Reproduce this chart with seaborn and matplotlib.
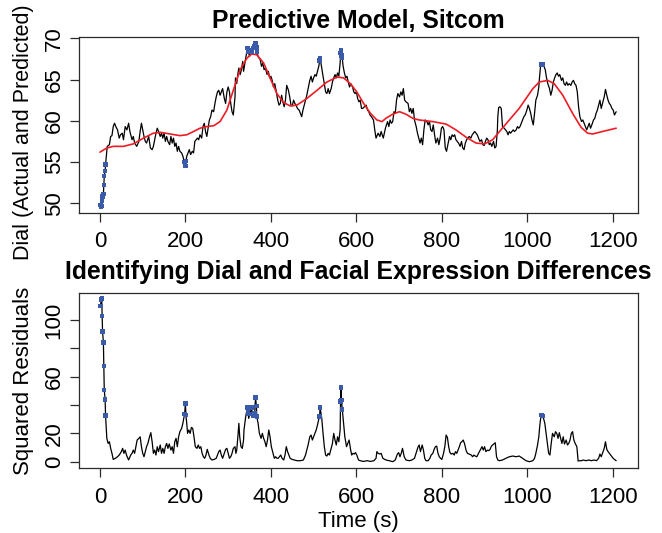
import pandas                as pd
import seaborn               as sns
import matplotlib.pyplot     as plt


sns.set_style("white")
plt.rcParams["font.family"]     = ["Liberation Sans", "DejaVu Sans"]
plt.rcParams["text.color"]      = "black"
plt.rcParams["axes.labelcolor"] = "black"
plt.rcParams["xtick.color"]     = "black"
plt.rcParams["ytick.color"]     = "black"

OUT_PATH    = "out.png"
BLUE        = "#3A5BAA"
RED         = "#EE1C25"
EDGE        = "#2b2b2b"

# dial rating over time (seconds)
DIAL_T = [
    1, 3, 4, 5, 6, 8, 9, 10, 12, 13,
    17, 22, 25, 28, 31, 34, 37, 41, 45, 48,
    52, 55, 59, 63, 67, 70, 75, 78, 81, 86,
    91, 94, 97, 100, 103, 106, 109, 114, 118, 122,
    125, 128, 131, 134, 137, 141, 144, 147, 150, 153,
    156, 159, 163, 166, 169, 172, 175, 178, 181, 184,
    187, 191, 194, 196, 198, 200, 201, 203, 206, 209,
    212, 216, 219, 222, 225, 228, 231, 234, 238, 241,
    244, 247, 250, 253, 256, 259, 262, 266, 269, 272,
    275, 278, 281, 284, 287, 291, 294, 297, 300, 303,
    306, 309, 312, 316, 317, 320, 323, 325, 328, 331,
    334, 336, 339, 341, 343, 345, 346, 347, 350, 352,
    355, 356, 358, 359, 362, 364, 366, 367, 370, 375,
    378, 381, 384, 387, 391, 394, 397, 400, 403, 406,
    409, 412, 416, 419, 422, 425, 428, 431, 434, 437,
    441, 444, 447, 450, 453, 456, 459, 462, 466, 469,
    472, 475, 478, 481, 484, 487, 491, 494, 497, 500,
    503, 506, 509, 512, 514, 515, 519, 522, 525, 528,
    531, 534, 537, 541, 544, 547, 550, 553, 556, 559,
    562, 563, 564, 565, 567, 569, 572, 575, 578, 581,
    584, 587, 591, 594, 597, 600, 603, 606, 609, 612,
    615, 619, 623, 626, 629, 632, 635, 640, 643, 646,
    651, 655, 658, 663, 668, 673, 676, 679, 682, 685,
    688, 691, 694, 697, 701, 704, 707, 710, 713, 716,
    721, 724, 727, 730, 733, 736, 740, 743, 746, 749,
    752, 755, 758, 761, 765, 768, 771, 774, 777, 780,
    783, 786, 790, 793, 796, 799, 802, 805, 808, 811,
    814, 818, 821, 824, 827, 830, 833, 836, 839, 843,
    846, 849, 852, 855, 858, 861, 864, 868, 871, 874,
    877, 880, 883, 886, 889, 893, 896, 899, 902, 905,
    908, 911, 914, 917, 921, 924, 927, 930, 931, 933,
    936, 939, 941, 942, 946, 949, 952, 955, 958, 961,
    964, 967, 970, 974, 977, 980, 983, 986, 989, 992,
    995, 999, 1002, 1005, 1008, 1011, 1014, 1017, 1020, 1024,
    1027, 1028, 1031, 1033, 1036, 1039, 1042, 1045, 1048, 1052,
    1055, 1058, 1061, 1064, 1067, 1070, 1073, 1076, 1080, 1083,
    1086, 1089, 1092, 1095, 1098, 1102, 1105, 1108, 1111, 1114,
    1117, 1120, 1123, 1127, 1130, 1133, 1136, 1139, 1142, 1145,
    1148, 1151, 1155, 1158, 1161, 1164, 1167, 1170, 1173, 1176,
    1180, 1183, 1186, 1189, 1192, 1195, 1198, 1201, 1204, 1208,
]
DIAL_V = [
    49.8, 49.6, 49.7, 50.3, 50.8, 51.1, 52.2, 53.3, 53.9, 54.7,
    56.9, 57.1, 58.1, 58.2, 59.3, 59.7, 59.3, 58.9, 57.9, 58.3,
    58.5, 57.7, 59.3, 58.9, 59.7, 58.7, 57.7, 58.1, 57.3, 56.9,
    57.5, 58.7, 59.7, 58.9, 58.1, 57.5, 57.3, 58.1, 56.7, 56.5,
    56.9, 57.7, 58.5, 59.1, 58.7, 58.1, 58.5, 57.9, 58.5, 57.5,
    58.1, 57.5, 57.1, 58.1, 57.3, 57.9, 56.9, 57.3, 56.3, 56.9,
    56.3, 56.1, 55.7, 55.3, 55.0, 54.5, 55.1, 55.7, 56.1, 56.5,
    55.9, 56.3, 56.1, 57.5, 57.7, 57.9, 57.7, 58.3, 57.9, 59.3,
    59.7, 58.7, 58.1, 59.1, 60.1, 60.5, 61.3, 61.1, 62.1, 62.9,
    63.5, 63.7, 63.1, 63.5, 63.9, 62.7, 62.1, 63.5, 64.1, 63.5,
    62.1, 61.1, 60.7, 62.9, 65.2, 64.5, 65.8, 66.4, 65.6, 66.2,
    67.2, 66.0, 67.0, 67.6, 68.2, 68.8, 68.7, 68.4, 67.8, 68.4,
    68.6, 68.4, 68.3, 68.8, 69.0, 69.4, 68.9, 68.4, 67.8, 67.4,
    66.6, 67.0, 66.2, 66.4, 65.6, 66.0, 65.2, 65.4, 64.9, 64.1,
    64.5, 63.7, 62.5, 61.9, 62.1, 63.1, 62.3, 61.7, 62.5, 64.3,
    63.7, 62.9, 61.9, 61.8, 62.5, 62.1, 61.9, 61.5, 61.3, 60.9,
    60.5, 61.3, 61.9, 62.5, 63.1, 63.9, 64.9, 65.4, 64.7, 65.2,
    65.6, 65.4, 66.0, 66.6, 67.3, 67.6, 66.4, 65.4, 64.5, 63.5,
    63.3, 63.9, 63.3, 63.9, 64.7, 65.2, 65.6, 65.2, 65.8, 65.4,
    67.0, 68.2, 68.6, 67.9, 67.6, 66.6, 65.8, 65.2, 65.4, 64.7,
    64.1, 64.5, 64.1, 63.5, 63.3, 63.5, 62.7, 62.3, 62.5, 61.5,
    61.5, 61.7, 61.9, 61.3, 61.1, 60.7, 60.5, 60.1, 58.9, 57.9,
    58.5, 58.1, 58.7, 57.9, 59.1, 59.9, 59.3, 60.1, 59.7, 59.9,
    61.1, 60.9, 62.5, 63.3, 62.9, 63.5, 63.1, 63.9, 62.5, 62.3,
    62.1, 61.1, 61.5, 60.9, 61.5, 60.1, 59.3, 58.5, 57.9, 57.3,
    57.9, 57.1, 58.9, 60.1, 59.9, 59.5, 59.9, 58.9, 58.7, 59.5,
    58.3, 57.3, 57.9, 57.1, 57.9, 59.1, 59.3, 58.9, 56.7, 56.3,
    57.1, 58.1, 57.7, 58.3, 58.1, 58.3, 57.7, 57.5, 57.3, 56.9,
    57.5, 56.7, 56.5, 57.3, 57.7, 57.9, 58.1, 57.9, 58.3, 58.5,
    58.7, 58.5, 58.3, 57.9, 57.5, 57.7, 57.1, 57.0, 57.5, 57.9,
    57.7, 57.1, 57.3, 56.9, 57.5, 56.7, 56.9, 58.9, 60.5, 61.6,
    61.7, 61.5, 60.1, 59.3, 59.1, 58.9, 58.7, 58.3, 58.7, 58.5,
    58.7, 58.9, 58.7, 58.9, 59.3, 59.1, 59.3, 59.7, 60.1, 60.5,
    60.7, 61.3, 61.9, 61.5, 60.9, 60.1, 59.5, 60.9, 62.5, 63.1,
    64.1, 64.9, 66.6, 66.8, 66.8, 66.6, 66.2, 65.2, 64.5, 63.9,
    63.1, 63.7, 64.7, 65.2, 65.6, 65.8, 65.4, 65.6, 64.9, 65.2,
    64.5, 64.3, 64.7, 64.3, 64.5, 64.3, 64.7, 64.9, 64.5, 64.3,
    63.5, 61.7, 60.5, 59.9, 60.1, 59.7, 59.3, 58.9, 59.3, 59.7,
    59.1, 59.5, 60.1, 60.3, 60.9, 61.3, 61.9, 62.5, 61.5, 62.1,
    62.9, 63.8, 63.1, 62.5, 62.1, 61.9, 61.5, 61.3, 60.7, 61.1,
]

# smooth model prediction
PRED_T = [
    0, 16, 31, 55, 78, 102, 125, 141, 164, 187,
    203, 219, 234, 250, 266, 281, 297, 312, 328, 344,
    355, 367, 383, 398, 414, 430, 445, 461, 484, 508,
    531, 555, 570, 586, 601, 617, 633, 648, 660, 669,
    685, 701, 716, 732, 747, 779, 810, 833, 857, 880,
    900, 919, 935, 958, 981, 997, 1013, 1028, 1048, 1063,
    1083, 1106, 1126, 1141, 1153, 1176, 1208,
]
PRED_V = [
    56.2, 56.7, 56.9, 56.9, 57.2, 57.9, 58.5, 58.6, 58.4, 58.2,
    58.3, 58.7, 59.1, 59.3, 59.4, 59.9, 61.3, 63.7, 66.2, 67.6,
    68.1, 68.0, 67.0, 65.2, 63.3, 62.2, 61.8, 61.9, 62.7, 63.7,
    64.7, 65.3, 65.2, 64.5, 63.5, 62.1, 60.9, 60.1, 59.9, 60.3,
    60.8, 61.1, 60.8, 60.3, 60.1, 59.9, 59.6, 58.9, 58.0, 57.3,
    57.2, 57.7, 58.7, 60.1, 61.5, 62.7, 63.9, 64.7, 64.9, 64.5,
    63.1, 60.9, 59.2, 58.5, 58.4, 58.7, 59.1,
]

# squared residuals over time
RESID_T = [
    1, 3, 4, 5, 6, 8, 9, 10, 12, 13,
    16, 19, 22, 25, 28, 31, 36, 41, 45, 50,
    53, 56, 59, 62, 67, 72, 75, 78, 81, 84,
    87, 91, 94, 97, 100, 103, 106, 109, 112, 116,
    119, 122, 125, 128, 131, 134, 137, 141, 144, 147,
    150, 153, 156, 159, 162, 166, 169, 172, 175, 178,
    181, 184, 187, 191, 194, 196, 198, 200, 201, 203,
    205, 208, 211, 214, 217, 220, 223, 227, 230, 233,
    236, 239, 242, 245, 248, 251, 255, 258, 262, 267,
    272, 275, 278, 281, 284, 287, 291, 294, 297, 300,
    303, 306, 309, 312, 316, 318, 320, 323, 325, 327,
    330, 333, 336, 337, 341, 344, 345, 346, 347, 348,
    351, 353, 355, 356, 359, 362, 364, 366, 367, 370,
    373, 377, 380, 383, 386, 389, 392, 395, 398, 401,
    405, 408, 411, 414, 417, 420, 423, 426, 430, 433,
    436, 439, 442, 445, 450, 455, 461, 469, 476, 481,
    484, 487, 491, 494, 497, 500, 503, 506, 509, 512,
    514, 515, 519, 522, 525, 528, 531, 534, 537, 540,
    544, 547, 550, 553, 556, 559, 562, 563, 564, 565,
    567, 570, 573, 577, 580, 583, 586, 589, 592, 595,
    598, 601, 605, 609, 617, 625, 633, 641, 646, 648,
    651, 655, 658, 662, 669, 677, 685, 691, 696, 699,
    702, 705, 708, 712, 716, 724, 730, 736, 741, 744,
    747, 750, 754, 757, 760, 763, 768, 772, 775, 779,
    782, 785, 788, 791, 794, 797, 800, 804, 807, 810,
    813, 816, 819, 822, 826, 829, 832, 835, 838, 841,
    844, 847, 850, 853, 857, 860, 864, 869, 872, 875,
    878, 882, 885, 888, 891, 894, 897, 900, 903, 907,
    910, 913, 916, 919, 922, 925, 928, 931, 935, 942,
    950, 958, 966, 974, 981, 989, 997, 1005, 1013, 1017,
    1020, 1024, 1027, 1029, 1031, 1033, 1036, 1038, 1041, 1044,
    1047, 1050, 1053, 1056, 1059, 1063, 1066, 1069, 1072, 1075,
    1078, 1081, 1084, 1087, 1091, 1094, 1097, 1100, 1103, 1106,
    1109, 1112, 1116, 1119, 1123, 1127, 1131, 1137, 1144, 1150,
    1156, 1162, 1167, 1170, 1173, 1176, 1180, 1183, 1186, 1189,
    1192, 1195, 1198, 1201, 1204, 1208,
]
RESID_V = [
    109.9, 114.6, 115.3, 102.8, 91.8, 84.2, 67.5, 50.6, 44.0, 32.7,
    16.5, 12.9, 14.1, 9.4, 5.9, 1.6, 2.4, 3.5, 4.7, 7.1,
    9.4, 5.9, 8.2, 4.7, 1.2, 4.7, 5.9, 8.2, 5.9, 10.6,
    15.3, 16.5, 17.6, 10.6, 5.9, 3.5, 7.1, 10.6, 12.9, 17.6,
    20.5, 14.1, 5.9, 8.2, 4.7, 10.6, 7.1, 11.8, 5.9, 9.4,
    5.9, 10.6, 12.9, 9.4, 12.5, 8.2, 10.6, 5.9, 14.1, 16.5,
    10.6, 17.6, 21.2, 23.5, 27.1, 30.6, 33.6, 41.2, 32.9, 27.1,
    20.0, 22.4, 20.0, 24.2, 23.5, 17.6, 10.6, 9.4, 11.8, 9.4,
    10.6, 5.9, 3.5, 2.4, 4.7, 8.7, 4.7, 2.4, 1.2, 1.6,
    2.4, 4.7, 7.1, 8.2, 4.7, 2.4, 5.9, 8.7, 9.4, 5.9,
    2.4, 3.5, 5.9, 9.4, 10.6, 5.9, 8.2, 18.8, 27.1, 17.6,
    10.6, 9.4, 15.3, 22.4, 31.8, 37.0, 38.4, 35.3, 33.6, 30.6,
    34.1, 36.0, 38.4, 33.6, 32.2, 34.1, 45.4, 39.3, 31.8, 27.1,
    20.0, 16.5, 20.0, 16.5, 14.1, 10.6, 15.3, 22.4, 17.6, 10.6,
    5.9, 2.4, 3.5, 2.4, 2.4, 3.5, 4.7, 2.4, 1.2, 4.7,
    10.6, 7.1, 4.7, 2.4, 1.6, 1.2, 0.7, 0.7, 1.2, 4.7,
    8.2, 11.8, 17.6, 18.8, 15.3, 17.6, 20.0, 22.4, 25.9, 30.0,
    31.8, 38.4, 30.6, 20.0, 10.6, 4.7, 4.0, 5.9, 4.7, 8.2,
    12.9, 20.0, 15.3, 11.8, 17.6, 14.1, 22.4, 42.4, 52.5, 43.5,
    36.9, 27.1, 17.6, 10.6, 12.9, 15.3, 9.4, 4.7, 5.9, 5.4,
    6.4, 4.7, 1.2, 0.7, 0.2, 0.7, 0.2, 0.7, 2.4, 7.1,
    5.9, 5.4, 5.9, 2.4, 1.2, 0.7, 0.0, 1.2, 5.4, 6.4,
    3.5, 5.9, 9.4, 3.5, 1.2, 0.7, 1.2, 2.4, 7.1, 10.1,
    11.8, 7.1, 11.8, 8.2, 2.4, 0.7, 0.7, 2.4, 4.7, 5.9,
    8.7, 10.6, 11.0, 5.9, 3.5, 2.4, 1.6, 5.9, 10.6, 18.8,
    17.2, 10.6, 6.4, 5.4, 5.9, 4.7, 7.1, 5.9, 8.2, 10.6,
    13.4, 14.1, 15.3, 12.9, 7.8, 5.9, 5.4, 4.7, 3.5, 4.7,
    4.0, 3.5, 5.4, 7.1, 8.7, 10.6, 8.2, 10.6, 7.1, 8.2,
    7.8, 8.7, 11.0, 11.8, 12.5, 13.4, 3.5, 1.2, 0.7, 1.2,
    2.4, 3.5, 4.0, 3.5, 4.0, 2.4, 0.7, 0.0, 0.7, 2.4,
    5.9, 11.8, 17.6, 24.7, 30.0, 32.9, 32.2, 30.6, 27.1, 20.0,
    12.9, 5.9, 4.7, 12.9, 20.0, 17.6, 21.2, 20.0, 16.5, 20.5,
    16.5, 12.9, 17.6, 12.5, 15.3, 11.8, 12.9, 15.3, 20.0, 21.2,
    15.3, 12.9, 10.6, 0.5, 0.7, 0.7, 1.2, 0.7, 1.2, 0.7,
    1.2, 0.7, 2.4, 5.4, 3.5, 5.9, 9.4, 14.1, 8.7, 7.1,
    5.9, 4.7, 3.5, 2.4, 1.6, 0.7,
]

# seconds where dial and facial expression disagree most
FLAG_T = [
    1, 3, 4, 5, 6, 8, 9, 10, 12, 13,
    198, 200, 201,
    345, 346, 347, 355, 356, 359, 362, 364, 366, 367,
    514, 515,
    563, 564, 565, 567,
    1033, 1036,
]

X_TICKS     = [0, 200, 400, 600, 800, 1000, 1200]
TOP_TICKS   = [50, 55, 60, 65, 70]
BOT_TICKS   = [0, 20, 40, 60, 80, 100]
BOT_LABELS  = ["0", "20", "", "60", "", "100"]


def style_axis(ax):
    for side in ax.spines.values():
        side.set_visible(True)
        side.set_color(EDGE)
        side.set_linewidth(0.9)
    ax.tick_params(
        direction   ="out",
        length      =6.5,
        width       =0.9,
        color       =EDGE,
        labelcolor  ="black",
        labelsize   =16,
        left        =True,
        bottom      =True
    )
    ax.tick_params(axis="x", pad=7)
    ax.tick_params(axis="y", pad=4, labelrotation=90)
    plt.setp(ax.get_yticklabels(), va="center")


def draw_chart():

    dial_df  = pd.DataFrame({"time": DIAL_T, "value": DIAL_V})
    pred_df  = pd.DataFrame({"time": PRED_T, "value": PRED_V})
    resid_df = pd.DataFrame({"time": RESID_T, "value": RESID_V})

    fig     = plt.figure(figsize=(6.62, 5.33), dpi=100)
    ax_top  = fig.add_axes([0.1198, 0.601, 0.8435, 0.329])
    ax_bot  = fig.add_axes([0.1198, 0.1214, 0.8435, 0.3294])

    # top panel: dial vs prediction
    sns.lineplot(data=dial_df, x="time", y="value", ax=ax_top,
                 color="black", linewidth=0.9, estimator=None, zorder=2)
    sns.lineplot(data=pred_df, x="time", y="value", ax=ax_top,
                 color=RED, linewidth=1.2, estimator=None, zorder=3)
    sns.scatterplot(data=dial_df[dial_df["time"].isin(FLAG_T)],
                    x="time", y="value", ax=ax_top,
                    marker="s", s=10, color=BLUE, edgecolor="none", zorder=4)

    # bottom panel: squared residuals
    sns.lineplot(data=resid_df, x="time", y="value", ax=ax_bot,
                 color="black", linewidth=0.9, estimator=None, zorder=2)
    sns.scatterplot(data=resid_df[resid_df["time"].isin(FLAG_T)],
                    x="time", y="value", ax=ax_bot,
                    marker="s", s=10, color=BLUE, edgecolor="none", zorder=4)

    for ax in (ax_top, ax_bot):
        ax.set_xlim(-48.4, 1258.4)
        ax.set_xticks(X_TICKS)
        style_axis(ax)

    ax_top.set_ylim(48.86, 70.12)
    ax_top.set_yticks(TOP_TICKS)
    ax_bot.set_ylim(-4.66, 119.3)
    ax_bot.set_yticks(BOT_TICKS)
    ax_bot.set_yticklabels(BOT_LABELS)
    plt.setp(ax_bot.get_yticklabels(), va="center", rotation=90)

    ax_top.set_title("Predictive Model, Sitcom",
                     fontsize=17.8, fontweight="bold", pad=7, color="black")
    ax_bot.set_title("Identifying Dial and Facial Expression Differences",
                     fontsize=17.8, fontweight="bold", pad=10, color="black")

    ax_top.set_xlabel("")
    ax_top.set_ylabel("Dial (Actual and Predicted)", fontsize=15.5, color="black")
    ax_bot.set_xlabel("Time (s)", fontsize=16, labelpad=2, color="black")
    ax_bot.set_ylabel("Squared Residuals", fontsize=16, color="black")
    ax_top.yaxis.set_label_coords(-0.081, 0.46)
    ax_bot.yaxis.set_label_coords(-0.081, 0.5)

    fig.savefig(OUT_PATH, dpi=100, facecolor="white")


if __name__ == '__main__':
    draw_chart()
